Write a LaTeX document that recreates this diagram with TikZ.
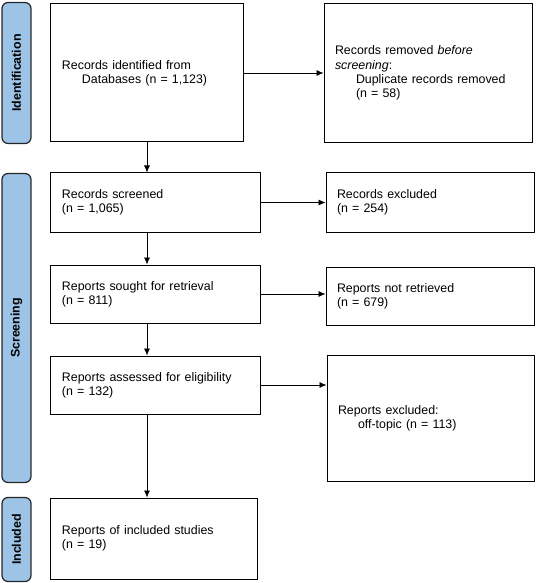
\documentclass[tikz,border=0pt]{standalone}
\usepackage{fontspec}
\setmainfont{Liberation Sans}
\usepackage{graphicx}
\usepackage{tikz}
\usetikzlibrary{arrows.meta}
\definecolor{stageblue}{RGB}{157,195,230}
\newcommand{\prfont}{\fontsize{12.4pt}{14.4pt}\selectfont}
\tikzstyle{prbox} = [rectangle, 
draw=black, 
line width=1pt, 
inner xsep=11pt, 
inner ysep=0pt, 
align=left]
\tikzstyle{stagebar} = [rectangle, rounded corners=6pt,
minimum width=29pt, 
inner sep=0pt, 
draw=black!85, 
line width=1.2pt, 
fill=stageblue, 
font=\prfont\bfseries]
\tikzstyle{flow} = [-{Latex[length=7pt,width=6pt]}, line width=0.7pt]

\begin{document}
\begin{tikzpicture}[font=\prfont]
		\useasboundingbox (-147pt,-510pt) rectangle (390pt,73pt);
		\node (ident) [prbox, text width=170pt, minimum height=138pt] {Records identified from\\ \hspace*{20pt}Databases (n = 1,123)};
		\node (removed) [prbox, text width=186pt, minimum height=139pt, right of=ident, node distance=281pt] {Records removed \textit{before}\\ \textit{screening}:\\ \hspace*{21pt}Duplicate records removed\\ \hspace*{21pt}(n = 58)};
		\node (screened) [prbox, text width=187pt, minimum height=59pt, below of=ident, node distance=129.5pt, xshift=8.5pt] {Records screened\\(n = 1,065)};
		\node (excl) [prbox, text width=186pt, minimum height=59pt, right of=screened, node distance=274.5pt] {Records excluded\\(n = 254)};
		\node (sought) [prbox, text width=187pt, minimum height=58pt, below of=screened, node distance=91.5pt] {Reports sought for retrieval\\(n = 811)};
		\node (notret) [prbox, text width=186pt, minimum height=58pt, right of=sought, node distance=274.5pt, yshift=-2pt] {Reports not retrieved\\(n = 679)};
		\node (assessed) [prbox, text width=187pt, minimum height=58pt, below of=sought, node distance=91pt] {Reports assessed for eligibility\\(n = 132)};
		\node (exclrep) [prbox, text width=185pt, minimum height=126pt, right of=assessed, node distance=275pt, yshift=-33pt] {Reports excluded:\\ \hspace*{20pt}off-topic (n = 113)};
		\node (incl) [prbox, text width=184pt, minimum height=81pt, below of=assessed, node distance=153.5pt, xshift=-1.5pt] {Reports of included studies\\(n = 19)};
		
		% stages
		\node (stident) [stagebar, minimum height=141pt, left of=ident, node distance=130.5pt] {\rotatebox{90}{Identification}};
		\node (stscreen) [stagebar, minimum height=309pt, below of=stident, node distance=255pt] {\rotatebox{90}{Screening}};
		\node (stincl) [stagebar, minimum height=84pt, below of=stscreen, node distance=211.5pt] {\rotatebox{90}{Included}};
		
		\draw [flow](ident) -- (removed);
		\draw [flow](ident.south) -- (ident.south |- screened.north);
		\draw [flow](screened) -- (excl);
		\draw [flow](screened.south -| ident.south) -- (sought.north -| ident.south);
		\draw [flow](sought.east) -- (sought.east -| notret.west);
		\draw [flow](sought.south -| ident.south) -- (assessed.north -| ident.south);
		\draw [flow](assessed.east) -- (assessed.east -| exclrep.west);
		\draw [flow](assessed.south -| ident.south) -- (incl.north -| ident.south);
	\end{tikzpicture}
\end{document}
